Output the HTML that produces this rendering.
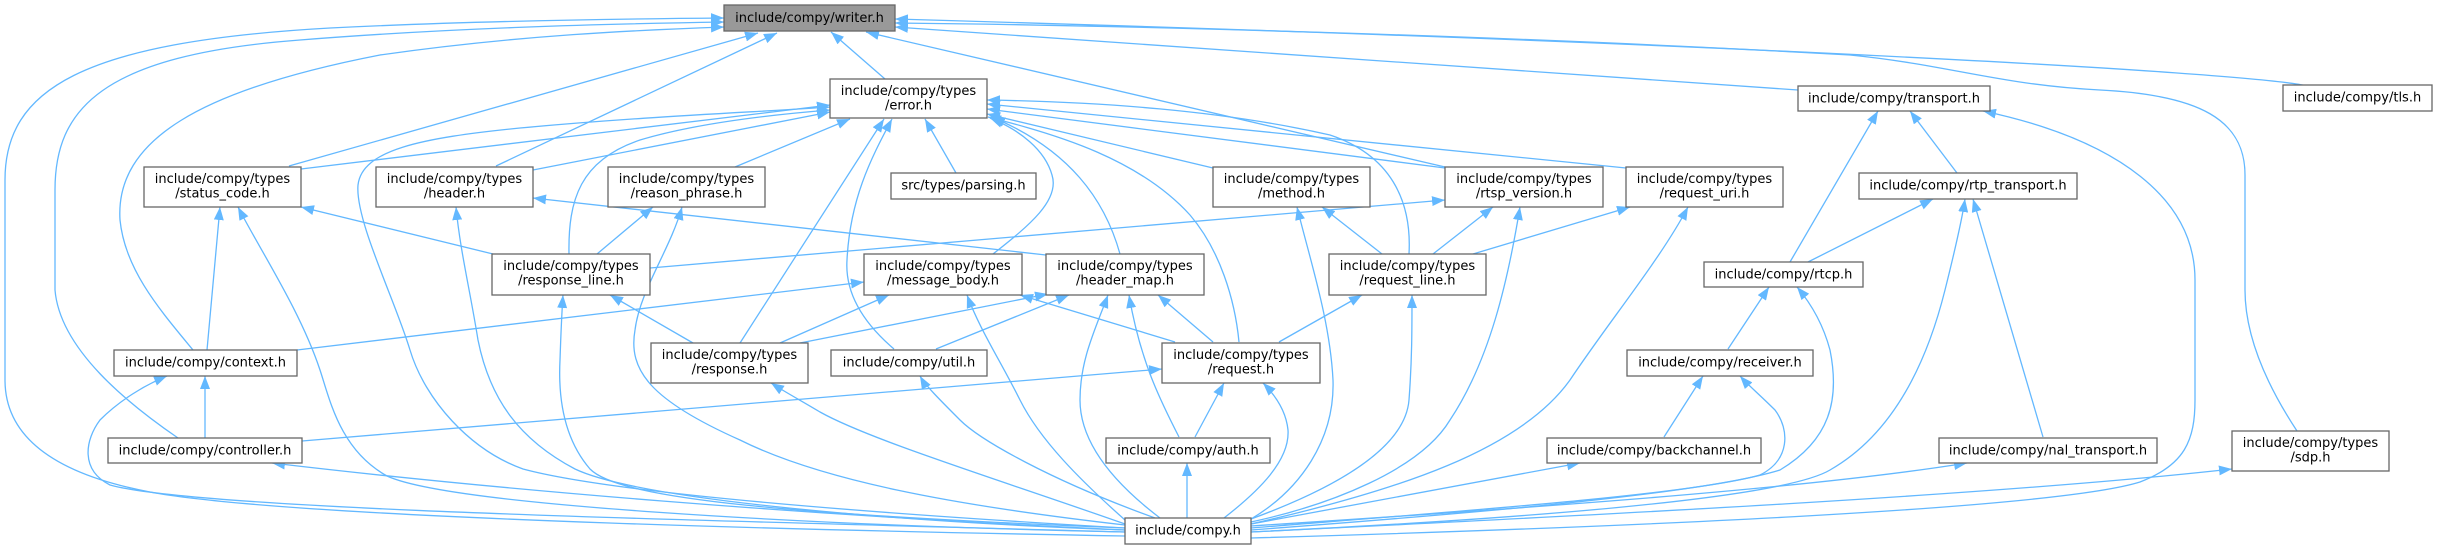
<!DOCTYPE html>
<html>
<head>
<meta charset="utf-8">
<style>
html,body{margin:0;padding:0;background:#fff;}
body{width:2437px;height:549px;overflow:hidden;}
svg{display:block;}
.e{fill:none;stroke:#63b8ff;stroke-width:1.3;marker-end:url(#a);}
.n{fill:#fff;stroke:#666;stroke-width:1.3;}
.m{fill:#999;stroke:#666;stroke-width:1.3;}
text{font-family:"DejaVu Sans","Liberation Sans",sans-serif;font-size:13px;fill:#000;text-anchor:middle;}
</style>
</head>
<body>
<svg width="2437" height="549" viewBox="0 0 2437 549" xmlns="http://www.w3.org/2000/svg">
<defs>
<marker id="a" markerUnits="userSpaceOnUse" markerWidth="13" markerHeight="10" refX="13" refY="5" orient="auto" viewBox="0 0 13 10">
<path d="M0,0L13,5L0,10z" fill="#63b8ff"/>
</marker>
</defs>

<!-- edges to writer.h -->
<path class="e" d="M1125,536 C900,532 300,520 150,492 C60,475 5,440 5,380 L5,180 C5,90 80,42 330,28 C450,22 600,19 724,18"/>
<path class="e" d="M178,438 C130,405 60,350 55,290 L55,190 C55,110 100,55 300,40 C450,28 600,24 724,22"/>
<path class="e" d="M193,350 C160,310 125,270 120,220 C115,140 200,90 380,55 C520,35 640,30 724,27"/>
<path class="e" d="M289,166 L758,33"/>
<path class="e" d="M496,166 L777,33"/>
<path class="e" d="M885,79 L831,32"/>
<path class="e" d="M1445,167 L866,32"/>
<path class="e" d="M1798,90 L895,27"/>
<path class="e" d="M2307,86 C2250,72 1700,42 895,19"/>
<path class="e" d="M2297,431 C2270,390 2245,340 2245,290 L2245,175 C2245,120 2200,95 2100,90 C2000,85 1950,65 1850,55 C1500,35 1100,25 895,23"/>

<!-- edges to error.h -->
<path class="e" d="M301,169 L830,105"/>
<path class="e" d="M533,170 L830,112"/>
<path class="e" d="M569,254 C568,200 580,160 640,140 C700,122 780,114 830,110"/>
<path class="e" d="M1125,528 C900,515 620,495 523,469 C470,450 425,400 410,350 C395,300 355,220 358,185 C362,150 420,138 520,128 C650,116 760,112 830,107"/>
<path class="e" d="M735,167 L850,119"/>
<path class="e" d="M740,343 L884,119"/>
<path class="e" d="M894,349 C860,320 845,290 847,260 C850,200 870,160 892,119"/>
<path class="e" d="M956,173 L925,119"/>
<path class="e" d="M993,254 C1030,225 1060,200 1052,175 C1045,150 1020,130 990,118"/>
<path class="e" d="M1120,254 C1105,200 1070,150 992,117"/>
<path class="e" d="M1239,342 C1235,300 1220,250 1190,215 C1140,160 1060,135 988,117"/>
<path class="e" d="M1213,168 L987,114"/>
<path class="e" d="M1445,168 L987,109"/>
<path class="e" d="M1626,168 L987,104"/>
<path class="e" d="M1409,254 C1412,200 1390,155 1330,135 C1220,110 1100,102 987,100"/>

<!-- status_code -->
<path class="e" d="M493,254 L301,207"/>
<path class="e" d="M207,350 L220,207"/>
<path class="e" d="M1125,532 C800,525 450,505 387,476 C340,450 330,400 320,370 C300,310 260,250 238,207"/>

<!-- header -->
<path class="e" d="M1046,255 L533,198"/>
<path class="e" d="M1125,530 C900,522 640,500 575,469 C520,440 490,400 478,340 C470,290 460,250 456,207"/>

<!-- reason_phrase -->
<path class="e" d="M597,254 L653,207"/>
<path class="e" d="M1125,525 C950,505 820,480 740,440 C650,400 628,370 635,330 C640,290 670,250 682,207"/>

<!-- response_line -->
<path class="e" d="M693,343 L610,295"/>
<path class="e" d="M1125,528 C800,515 620,500 590,469 C565,440 558,400 560,360 C561,330 562,310 563,295"/>

<!-- rtsp_version -->
<path class="e" d="M650,268 L1445,200"/>
<path class="e" d="M1433,254 L1493,207"/>
<path class="e" d="M1251,522 C1330,505 1420,470 1450,420 C1490,360 1508,280 1520,207"/>

<!-- method -->
<path class="e" d="M1382,254 L1322,207"/>
<path class="e" d="M1251,519 C1300,490 1335,440 1333,380 C1330,320 1310,260 1297,207"/>

<!-- request_uri -->
<path class="e" d="M1473,254 L1630,207"/>
<path class="e" d="M1251,524 C1400,490 1520,450 1570,380 C1610,320 1660,260 1688,207"/>

<!-- request_line -->
<path class="e" d="M1279,342 L1362,295"/>
<path class="e" d="M1251,519 C1330,490 1405,450 1409,400 C1412,360 1412,330 1412,295"/>

<!-- message_body -->
<path class="e" d="M297,350 L864,282"/>
<path class="e" d="M780,343 L889,295"/>
<path class="e" d="M1125,520 C1080,480 1040,440 1020,400 C1000,360 980,330 967,295"/>
<path class="e" d="M1175,342 L1020,295"/>

<!-- header_map -->
<path class="e" d="M800,343 L1048,294"/>
<path class="e" d="M936,349 L1069,295"/>
<path class="e" d="M1160,518 C1110,480 1080,440 1080,400 C1080,360 1095,330 1108,295"/>
<path class="e" d="M1179,437 C1160,400 1140,360 1129,295"/>
<path class="e" d="M1213,342 L1158,295"/>

<!-- request -->
<path class="e" d="M302,441 L1162,369"/>
<path class="e" d="M1195,437 L1224,383"/>
<path class="e" d="M1224,518 C1260,490 1290,460 1288,430 C1286,410 1275,395 1263,383"/>

<!-- util -->
<path class="e" d="M1155,518 C1050,480 980,440 960,420 C940,400 925,385 920,376"/>

<!-- auth -->
<path class="e" d="M1187,518 L1187,463"/>

<!-- response -->
<path class="e" d="M1125,524 C1000,480 870,440 820,412 C800,400 785,392 771,383"/>

<!-- context -->
<path class="e" d="M205,438 L205,376"/>
<path class="e" d="M1125,532 C700,520 200,510 110,485 C80,470 85,440 100,420 C120,400 145,385 167,376"/>

<!-- controller -->
<path class="e" d="M1125,530 C800,515 500,490 272,463"/>

<!-- transport -->
<path class="e" d="M1790,262 L1878,111"/>
<path class="e" d="M1957,173 L1910,111"/>
<path class="e" d="M1251,538 C1600,528 2050,510 2140,482 C2185,465 2195,440 2195,400 L2195,280 C2195,200 2120,140 1983,111"/>

<!-- rtp_transport -->
<path class="e" d="M1808,262 L1933,199"/>
<path class="e" d="M1251,532 C1500,520 1780,500 1830,470 C1900,430 1930,350 1945,290 C1955,250 1962,220 1965,199"/>
<path class="e" d="M2043,437 L1973,199"/>

<!-- rtcp -->
<path class="e" d="M1728,349 L1769,287"/>
<path class="e" d="M1251,530 C1450,515 1700,495 1780,470 C1830,440 1840,400 1830,350 C1822,320 1808,300 1797,287"/>

<!-- receiver -->
<path class="e" d="M1664,437 L1703,376"/>
<path class="e" d="M1251,528 C1450,512 1690,495 1760,475 C1790,460 1790,430 1775,410 C1760,395 1748,385 1740,376"/>

<!-- backchannel / nal / sdp -->
<path class="e" d="M1251,524 L1580,463"/>
<path class="e" d="M1251,526 C1500,510 1800,490 1967,463"/>
<path class="e" d="M1251,532 C1600,515 2000,495 2232,469"/>

<!-- nodes -->
<rect class="m" x="724" y="5" width="171" height="26"/>
<text x="809.5" y="22">include/compy/writer.h</text>

<rect class="n" x="830" y="79" width="157" height="39"/>
<text x="908.5" y="95">include/compy/types</text>
<text x="908.5" y="109.5">/error.h</text>

<rect class="n" x="1798" y="86" width="192" height="25"/>
<text x="1894" y="102.5">include/compy/transport.h</text>

<rect class="n" x="2283" y="85" width="149" height="26"/>
<text x="2357.5" y="101.5">include/compy/tls.h</text>

<rect class="n" x="144" y="167" width="157" height="40"/>
<text x="222.5" y="183">include/compy/types</text>
<text x="222.5" y="197.5">/status_code.h</text>

<rect class="n" x="376" y="167" width="157" height="40"/>
<text x="454.5" y="183">include/compy/types</text>
<text x="454.5" y="197.5">/header.h</text>

<rect class="n" x="608" y="167" width="157" height="40"/>
<text x="686.5" y="183">include/compy/types</text>
<text x="686.5" y="197.5">/reason_phrase.h</text>

<rect class="n" x="891" y="173" width="145" height="26"/>
<text x="963.5" y="189.5">src/types/parsing.h</text>

<rect class="n" x="1213" y="167" width="157" height="40"/>
<text x="1291.5" y="183">include/compy/types</text>
<text x="1291.5" y="197.5">/method.h</text>

<rect class="n" x="1445" y="167" width="158" height="40"/>
<text x="1524" y="183">include/compy/types</text>
<text x="1524" y="197.5">/rtsp_version.h</text>

<rect class="n" x="1626" y="167" width="157" height="40"/>
<text x="1704.5" y="183">include/compy/types</text>
<text x="1704.5" y="197.5">/request_uri.h</text>

<rect class="n" x="1859" y="173" width="218" height="26"/>
<text x="1968" y="189.5">include/compy/rtp_transport.h</text>

<rect class="n" x="492" y="254" width="158" height="41"/>
<text x="571" y="270">include/compy/types</text>
<text x="571" y="284.5">/response_line.h</text>

<rect class="n" x="864" y="254" width="158" height="41"/>
<text x="943" y="270">include/compy/types</text>
<text x="943" y="284.5">/message_body.h</text>

<rect class="n" x="1046" y="254" width="158" height="41"/>
<text x="1125" y="270">include/compy/types</text>
<text x="1125" y="284.5">/header_map.h</text>

<rect class="n" x="1329" y="254" width="157" height="41"/>
<text x="1407.5" y="270">include/compy/types</text>
<text x="1407.5" y="284.5">/request_line.h</text>

<rect class="n" x="1704" y="262" width="159" height="25"/>
<text x="1783.5" y="278.5">include/compy/rtcp.h</text>

<rect class="n" x="114" y="350" width="183" height="26"/>
<text x="205.5" y="366.5">include/compy/context.h</text>

<rect class="n" x="651" y="343" width="157" height="40"/>
<text x="729.5" y="359">include/compy/types</text>
<text x="729.5" y="373.5">/response.h</text>

<rect class="n" x="831" y="350" width="156" height="26"/>
<text x="909" y="366.5">include/compy/util.h</text>

<rect class="n" x="1162" y="343" width="158" height="40"/>
<text x="1241" y="359">include/compy/types</text>
<text x="1241" y="373.5">/request.h</text>

<rect class="n" x="1627" y="350" width="186" height="26"/>
<text x="1720" y="366.5">include/compy/receiver.h</text>

<rect class="n" x="108" y="438" width="194" height="25"/>
<text x="205" y="454.5">include/compy/controller.h</text>

<rect class="n" x="1106" y="438" width="164" height="25"/>
<text x="1188" y="454.5">include/compy/auth.h</text>

<rect class="n" x="1547" y="438" width="214" height="25"/>
<text x="1654" y="454.5">include/compy/backchannel.h</text>

<rect class="n" x="1939" y="438" width="218" height="25"/>
<text x="2048" y="454.5">include/compy/nal_transport.h</text>

<rect class="n" x="2232" y="431" width="157" height="40"/>
<text x="2310.5" y="447">include/compy/types</text>
<text x="2310.5" y="461.5">/sdp.h</text>

<rect class="n" x="1125" y="518" width="126" height="26"/>
<text x="1188" y="534.5">include/compy.h</text>
</svg>
</body>
</html>
